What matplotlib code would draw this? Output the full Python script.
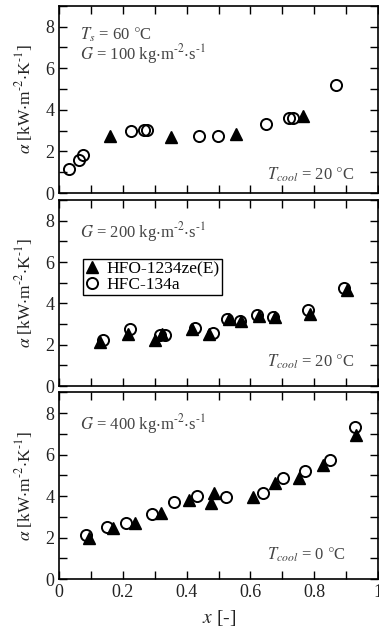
import matplotlib
matplotlib.use("Agg")
import matplotlib.pyplot as plt
from matplotlib.ticker import MultipleLocator, FormatStrFormatter

plt.rcParams['font.family'] = ['Liberation Serif', 'DejaVu Serif']
plt.rcParams['mathtext.fontset'] = 'stix'

# G = 100
x1_hfc = [0.031, 0.0625, 0.074, 0.225, 0.266, 0.276, 0.44, 0.498, 0.649, 0.72, 0.732, 0.868]
a1_hfc = [1.16, 1.6, 1.84, 3.0, 3.04, 3.04, 2.75, 2.75, 3.33, 3.6, 3.6, 5.17]
x1_hfo = [0.159, 0.352, 0.555, 0.766]
a1_hfo = [2.72, 2.67, 2.83, 3.69]

# G = 200
x2_hfc = [0.138, 0.224, 0.318, 0.331, 0.425, 0.484, 0.527, 0.566, 0.62, 0.672, 0.779, 0.894]
a2_hfc = [2.25, 2.78, 2.46, 2.46, 2.83, 2.59, 3.26, 3.15, 3.42, 3.34, 3.66, 4.75]
x2_hfo = [0.128, 0.215, 0.302, 0.324, 0.418, 0.47, 0.532, 0.57, 0.628, 0.677, 0.787, 0.902]
a2_hfo = [2.14, 2.54, 2.25, 2.54, 2.78, 2.54, 3.26, 3.15, 3.37, 3.34, 3.5, 4.66]

# G = 400
x3_hfc = [0.084, 0.149, 0.211, 0.29, 0.359, 0.432, 0.524, 0.638, 0.703, 0.772, 0.85, 0.928]
a3_hfc = [2.1, 2.53, 2.72, 3.15, 3.73, 4.0, 3.94, 4.13, 4.88, 5.22, 5.73, 7.33]
x3_hfo = [0.095, 0.168, 0.2375, 0.32, 0.407, 0.477, 0.487, 0.609, 0.678, 0.753, 0.828, 0.93]
a3_hfo = [2.0, 2.45, 2.69, 3.17, 3.81, 3.65, 4.13, 3.94, 4.64, 4.85, 5.49, 6.93]

sup = lambda n: r'$^{\text{-}' + n + '}$'
unit_g = r'kg$\cdot$m' + sup('2') + r'$\cdot$s' + sup('1')
panels = [
    (x1_hfc, a1_hfc, x1_hfo, a1_hfo, r'$G$ = 100 ' + unit_g, r'$T_{cool}$ = 20 $\degree$C'),
    (x2_hfc, a2_hfc, x2_hfo, a2_hfo, r'$G$ = 200 ' + unit_g, r'$T_{cool}$ = 20 $\degree$C'),
    (x3_hfc, a3_hfc, x3_hfo, a3_hfo, r'$G$ = 400 ' + unit_g, r'$T_{cool}$ = 0 $\degree$C'),
]
ylab = r'$\alpha$ [kW$\cdot$m' + sup('2') + r'$\cdot$K' + sup('1') + ']'
boxes = [[0.1557, 0.695, 0.842, 0.296],
         [0.1557, 0.390, 0.842, 0.294],
         [0.1557, 0.0853, 0.842, 0.295]]

txtc = '#444444'
fs = 12
fig = plt.figure(figsize=(3.79, 6.33), dpi=100)

for i, (xc, ac, xo, ao, gtxt, ttxt) in enumerate(panels):
    ax = fig.add_axes(boxes[i])
    ax.plot(xo, ao, linestyle='none', marker='^', markersize=8, color='black',
            markeredgecolor='black', label='HFO-1234ze(E)')
    ax.plot(xc, ac, linestyle='none', marker='o', markersize=8, markerfacecolor='none',
            markeredgecolor='black', markeredgewidth=1.4, label='HFC-134a')
    ax.set_xlim(0, 1)
    ax.set_ylim(0, 9)
    ax.xaxis.set_major_locator(MultipleLocator(0.2))
    ax.xaxis.set_minor_locator(MultipleLocator(0.1))
    ax.xaxis.set_major_formatter(FormatStrFormatter('%g'))
    ax.yaxis.set_major_locator(MultipleLocator(2))
    ax.yaxis.set_minor_locator(MultipleLocator(1))
    ax.tick_params(which='both', direction='in', top=True, right=True, length=6, width=1,
                   labelsize=13, labelcolor='#222222')
    for s in ax.spines.values():
        s.set_linewidth(1.2)
    ax.set_ylabel(ylab, fontsize=12.5, color='#222222')
    ax.yaxis.set_label_coords(-0.075, 0.5)
    if i < 2:
        ax.set_xticklabels([])
    if i == 0:
        ax.text(0.066, 0.845, r'$T_s$ = 60 $\degree$C', transform=ax.transAxes, fontsize=fs,
                color=txtc, va='center')
        ax.text(0.066, 0.74, gtxt, transform=ax.transAxes, fontsize=fs, color=txtc, va='center')
        ax.text(0.925, 0.096, ttxt, transform=ax.transAxes, fontsize=fs, color=txtc,
                va='center', ha='right')
    else:
        ax.text(0.066, 0.83, gtxt, transform=ax.transAxes, fontsize=fs, color=txtc, va='center')
        ax.text(0.925 if i == 1 else 0.9, 0.13, ttxt, transform=ax.transAxes, fontsize=fs,
                color=txtc, va='center', ha='right')
    if i == 1:
        leg = ax.legend(loc='upper left', bbox_to_anchor=(0.075, 0.685), fontsize=12.5,
                        frameon=True, fancybox=False, edgecolor='black', handlelength=0.7,
                        handletextpad=0.5, borderpad=0.15, labelspacing=-0.05, borderaxespad=0,
                        framealpha=1)
        leg.get_frame().set_linewidth(1.0)
    if i == 2:
        ax.set_xlabel(r'$x$ [-]', fontsize=14, color='#222222', labelpad=5)

fig.savefig('out.png', dpi=100)
